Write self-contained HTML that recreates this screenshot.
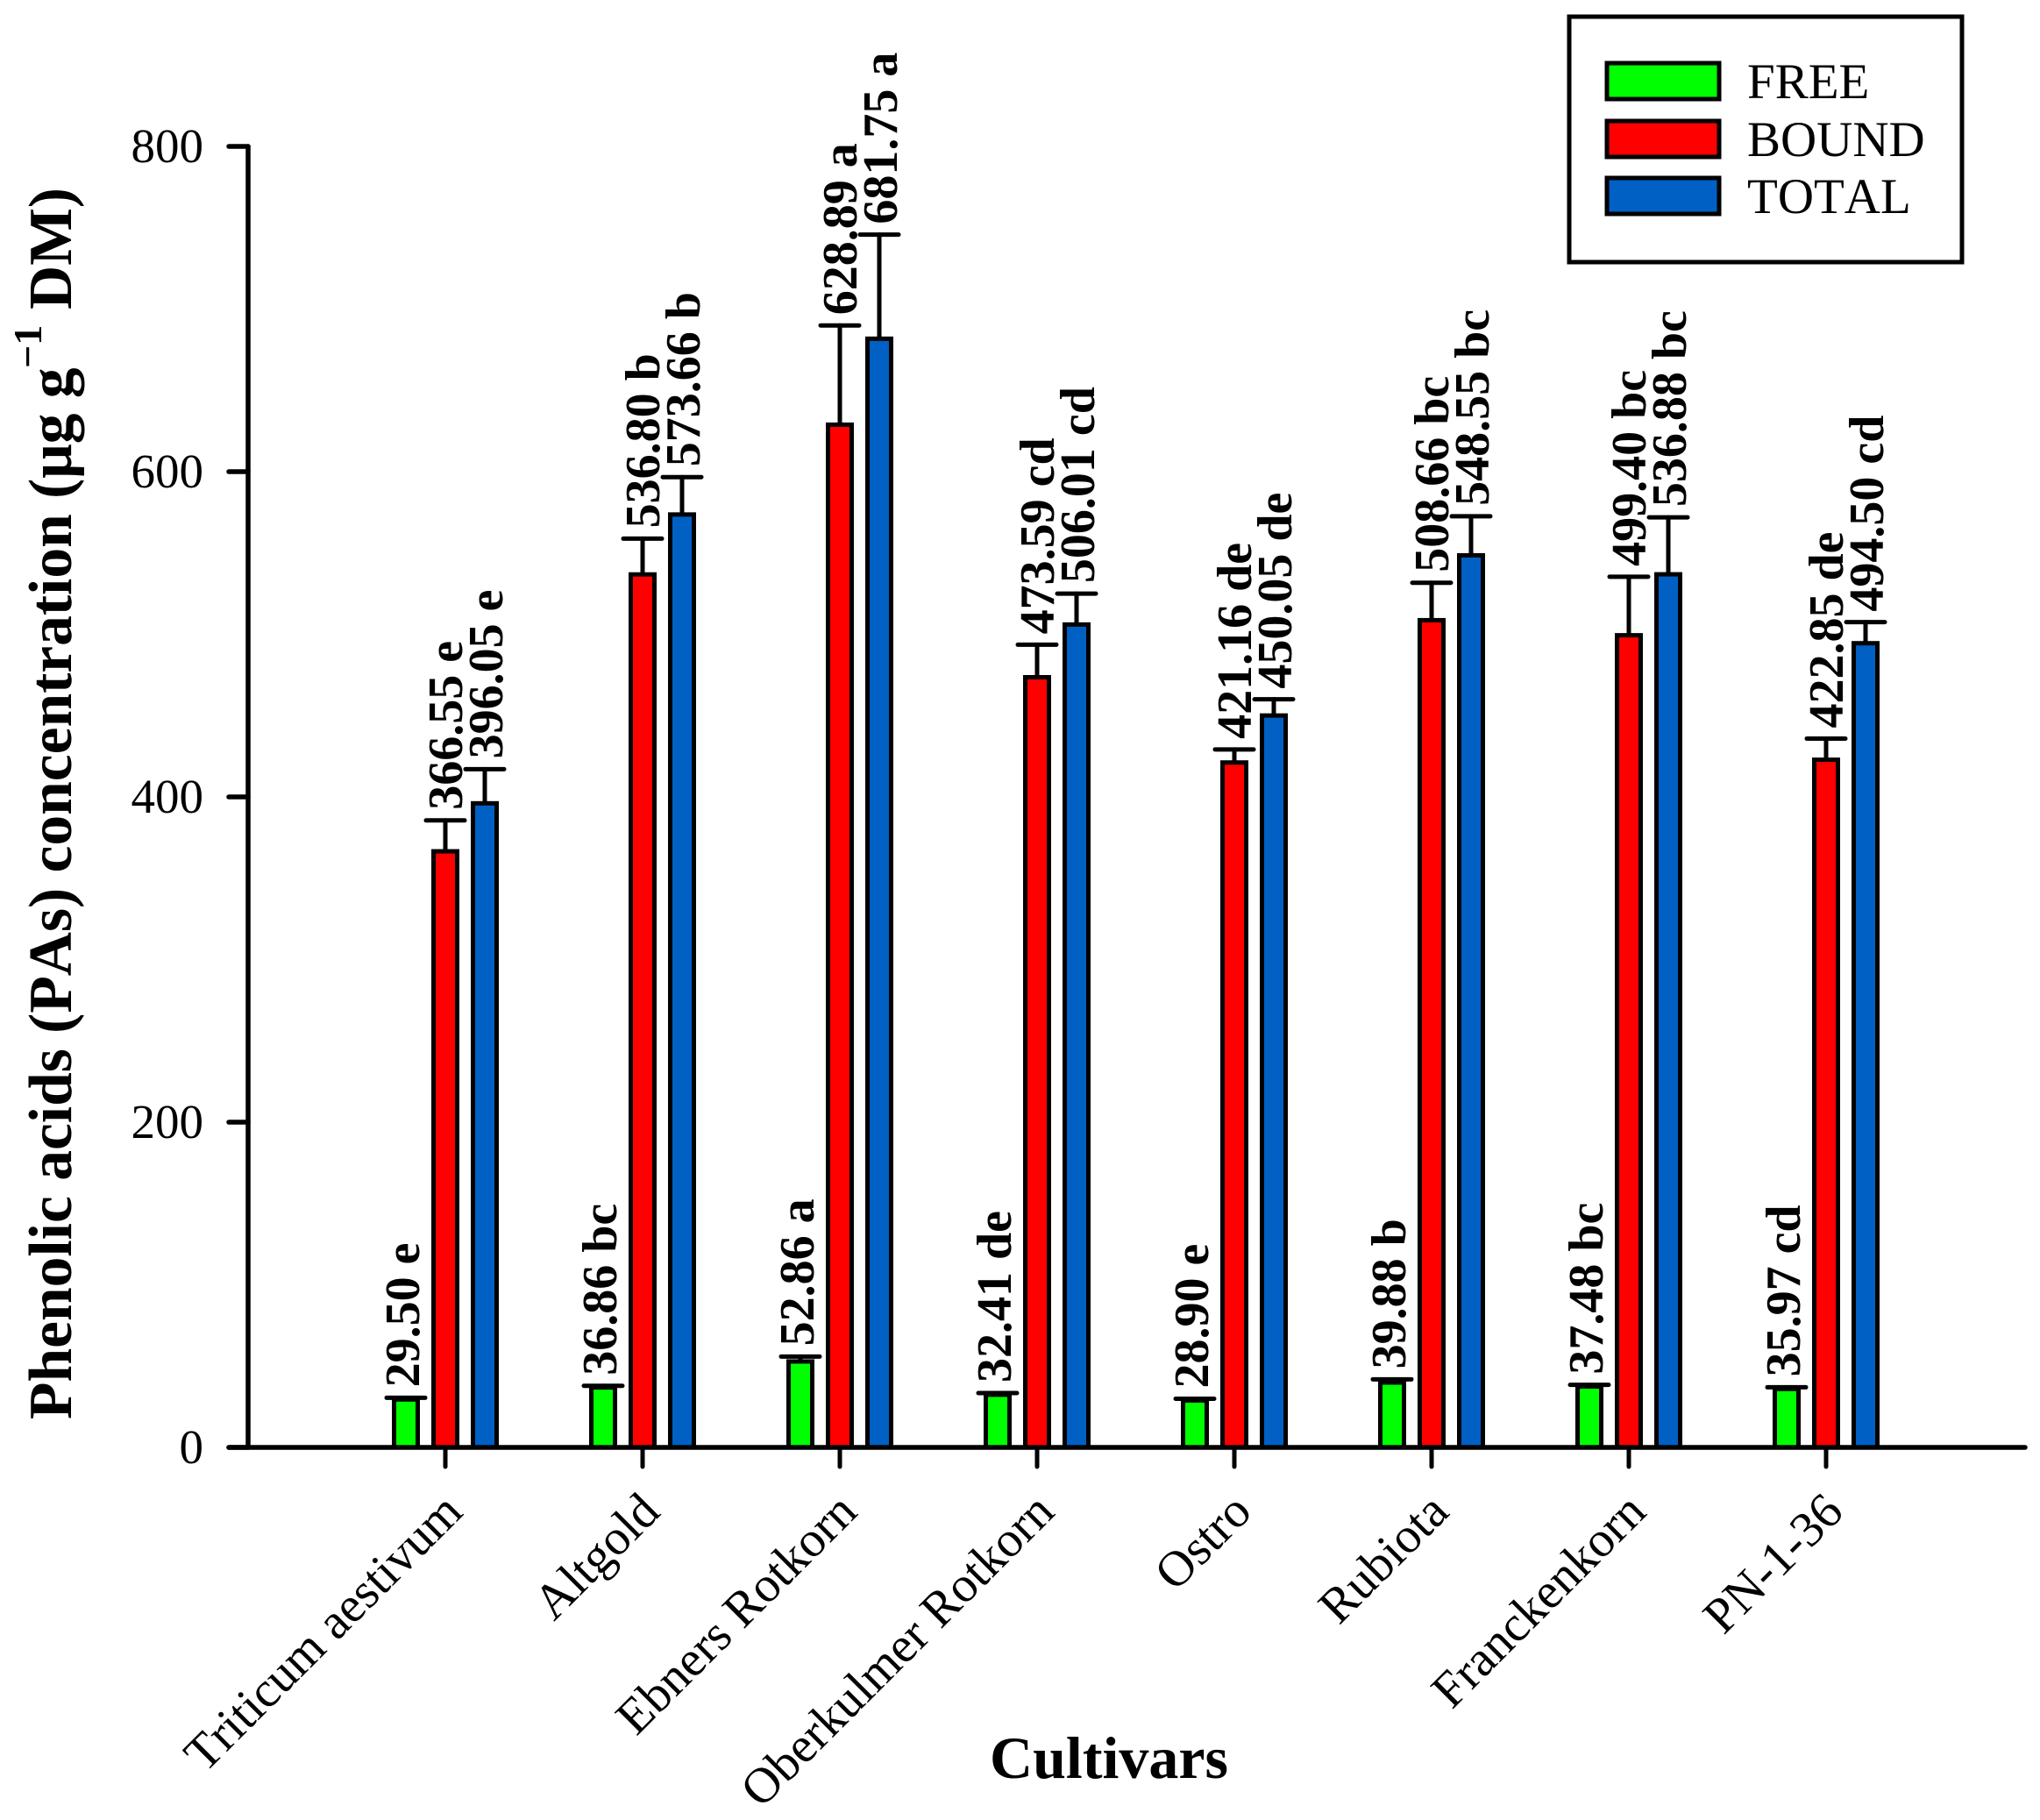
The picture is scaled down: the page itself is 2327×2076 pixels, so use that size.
<!DOCTYPE html>
<html lang="en">
<head>
<meta charset="utf-8">
<title>Phenolic acids by cultivar</title>
<style>
html,body{margin:0;padding:0;background:#fff;}
svg{display:block;font-family:"Liberation Serif","Times New Roman",serif;font-kerning:none;}
</style>
</head>
<body>
<svg id="chart" xmlns="http://www.w3.org/2000/svg" width="2327" height="2076" viewBox="0 0 2327 2076">
  <rect x="0" y="0" width="2327" height="2076" fill="#fff"/>
  <g id="plot"></g>
  <text transform="translate(81,1619) rotate(-90)" font-size="69.5" font-weight="bold" fill="#000">Phenolic acids (PAs) concentration (μg g<tspan x="1199" y="-34" font-size="46">−1</tspan><tspan x="1266" y="0">DM)</tspan></text>
  <text x="1265" y="2028" font-size="68" font-weight="bold" text-anchor="middle" fill="#000">Cultivars</text>
  <g>
    <rect x="1790" y="19" width="448" height="280" fill="#fff" stroke="#000" stroke-width="5"/>
    <rect x="1833" y="72" width="128" height="41" fill="#00ff00" stroke="#000" stroke-width="5"/>
    <text x="1993" y="112" font-size="57" fill="#000">FREE</text>
    <rect x="1833" y="138" width="128" height="41" fill="#ff0000" stroke="#000" stroke-width="5"/>
    <text x="1993" y="178" font-size="57" fill="#000">BOUND</text>
    <rect x="1833" y="203" width="128" height="41" fill="#0060c4" stroke="#000" stroke-width="5"/>
    <text x="1993" y="243" font-size="57" fill="#000">TOTAL</text>
  </g>
</svg>
<script>
const categories = ["Triticum aestivum","Altgold","Ebners Rotkorn","Oberkulmer Rotkorn","Ostro","Rubiota","Franckenkorn","PN-1-36"];
const freeValues = [29.50,36.86,52.86,32.41,28.90,39.88,37.48,35.97];
const boundValues = [366.55,536.80,628.89,473.59,421.16,508.66,499.40,422.85];
const totalValues = [396.05,573.66,681.75,506.01,450.05,548.55,536.88,494.50];
const freeErrors = [1,1,3,1,1,2,1,1];
const boundErrors = [19,22,61,20,8,23,36,13];
const totalErrors = [21,23,64,19,10,24,35,13];
const freeLetters = ["e","bc","a","de","e","b","bc","cd"];
const boundLetters = ["e","b","a","cd","de","bc","bc","de"];
const totalLetters = ["e","b","a","cd","de","bc","bc","cd"];
const yTickValues = [0,200,400,600,800];

const NS = "http://www.w3.org/2000/svg";
const plot = document.getElementById("plot");
const Y0 = 1651, Y800 = 167, YMAX = 800;
const X0 = 508, STEP = 225, OFFSET = 45, BARW = 27;
const AXIS_X = 283;

function yScale(v){ return Y0 - (v / YMAX) * (Y0 - Y800); }
function xScale(i){ return X0 + i * STEP; }
function make(tag, props, parent){
  const node = document.createElementNS(NS, tag);
  for (const k in props) node.setAttribute(k, props[k]);
  (parent || plot).appendChild(node);
  return node;
}
function line(x1,y1,x2,y2,w,parent){
  return make("line",{x1:x1,y1:y1,x2:x2,y2:y2,stroke:"#000","stroke-width":w,"stroke-linecap":"round"},parent);
}

const seriesList = [
  {key:"free", color:"#00ff00", values:freeValues, errors:freeErrors, letters:freeLetters, dx:-OFFSET, labelX:-4},
  {key:"bound", color:"#ff0000", values:boundValues, errors:boundErrors, letters:boundLetters, dx:0, labelX:0},
  {key:"total", color:"#0060c4", values:totalValues, errors:totalErrors, letters:totalLetters, dx:OFFSET, labelX:1}
];

seriesList.forEach(function(s){
  s.values.forEach(function(v,i){
    const cx = xScale(i) + s.dx;
    const top = yScale(v);
    const capY = yScale(v + s.errors[i]);

    const stem = line(cx, top, cx, capY, 5);
    
    

    const cap = line(cx - 22, capY, cx + 22, capY, 5);
    
    

    const bar = make("rect",{x:cx - BARW/2, y:top, width:BARW, height:Y0 - top, fill:s.color, stroke:"#000", "stroke-width":5});
    
    

    const label = make("text",{transform:"translate(" + (cx + 19 + s.labelX) + "," + (capY - 12) + ") rotate(-90)", "font-size":56, "font-weight":"bold", fill:"#000"});
    label.textContent = v.toFixed(2) + " " + s.letters[i];
    
    
  });
});

const yAxis = line(AXIS_X, Y800, AXIS_X, Y0, 5.5);



const xAxis = line(261, Y0, 2310, Y0, 5.5);



yTickValues.forEach(function(v){
  const t = line(261, yScale(v), AXIS_X, yScale(v), 5.5);
  
  

  const lab = make("text",{x:232, y:yScale(v) + 18, "font-size":55, "text-anchor":"end", fill:"#000"});
  lab.textContent = String(v);
  
  
});

categories.forEach(function(c,i){
  const x = xScale(i);
  const t = line(x, Y0, x, 1673, 5);
  
  

  const lab = make("text",{transform:"translate(" + (x + 22) + ",1727) rotate(-45)", "font-size":57, "text-anchor":"end", fill:"#000"});
  lab.textContent = c;
  
  
});
</script>
</body>
</html>
